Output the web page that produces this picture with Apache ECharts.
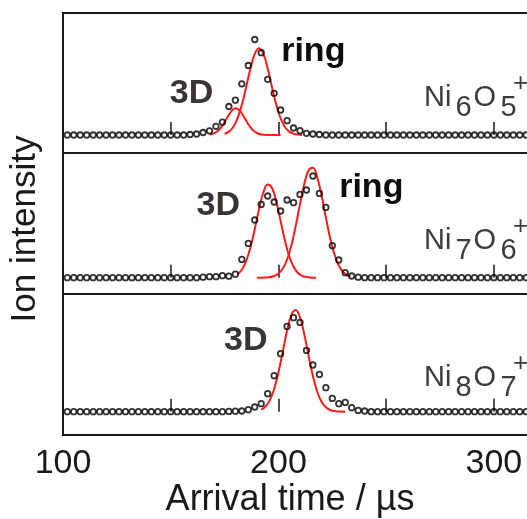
<!DOCTYPE html>
<html>
<head>
<meta charset="utf-8">
<script src="https://cdn.jsdelivr.net/npm/echarts@6/dist/echarts.min.js"></script>
<style>
    html, body { margin: 0; padding: 0; background: #fff; }
    #chart { width: 527px; height: 519px; }
</style>
</head>
<body>
<div id="chart"></div>
<script>
// arrival times of the measured points (µs)
const arrivalTimes = [
    102, 105, 108, 111, 114, 117, 120, 123, 126, 129,
    132, 135, 138, 141, 144, 147, 150, 153, 156, 159,
    162, 165, 168, 171, 174, 177, 180, 183, 186, 189,
    192, 195, 198, 201, 204, 207, 210, 213, 216, 219,
    222, 225, 228, 231, 234, 237, 240, 243, 246, 249,
    252, 255, 258, 261, 264, 267, 270, 273, 276, 279,
    282, 285, 288, 291, 294, 297, 300, 303, 306, 309,
    312, 315, 318
];

// ion intensity (arb. units) for each cluster
const ni6o5Intensity = [
    0, 0, 0, 0, 0, 0, 0, 0, 0, 0,
    0, 0, 0, 0, 0, 0, 0, 0, 0, 0.5,
    1, 2.5, 4.2, 8.7, 12.8, 28.5, 34.8, 51.2, 69.5, 95.5,
    82.3, 55.7, 41.7, 25, 14.3, 7, 4.3, 1.7, 1, 0.5,
    0, 0, 0, 0, 0, 0, 0, 0, 0, 0,
    0, 0, 0, 0, 0, 0, 0, 0, 0, 0,
    0, 0, 0, 0, 0, 0, 0, 0, 0, 0,
    0, 0, 0
];
const ni7o6Intensity = [
    0, 0, 0, 0, 0, 0, 0, 0, 0, 0,
    0, 0, 0, 0, 0, 0, 0, 0, 0, 0,
    0, 0.5, 1, 1, 2, 1.5, 3.5, 18.3, 34.3, 57.7,
    73.3, 81.7, 75.7, 66.7, 77.7, 75, 83.3, 87.7, 101.7, 84.3,
    70.3, 32, 17.7, 5, 1.7, 0.5, 0, 0, 0, 0,
    0, 0, 0, 0, 0, 0, 0, 0, 0, 0,
    0, 0, 0, 0, 0, 0, 0, 0, 0, 0,
    0, 0, 0
];
const ni8o7Intensity = [
    0, 0, 0, 0, 0, 0, 0, 0, 0, 0,
    0, 0, 0, 0, 0, 0, 0, 0, 0, 0,
    0, 0, 0, 0, 0, 0.3, 0.5, 0.7, 2, 4.7,
    8, 18, 36, 58, 85.3, 94, 89.3, 61.3, 46.7, 37.3,
    24, 13.3, 8, 9.3, 4, 1.3, 0.7, 0, 0, 0,
    0, 0, 0, 0, 0, 0, 0, 0, 0, 0,
    0, 0, 0, 0, 0, 0, 0, 0, 0, 0,
    0, 0, 0
];

// fitted isomer peaks, [time, intensity]
const ni6o5Fit3D = [[168, 0.5], [170, 1.6], [172, 4.3], [174, 9.4], [176, 16.6], [178, 23.4], [180, 26.7], [182, 24.5], [184, 18.1], [186, 10.8], [188, 5.2], [190, 2.0], [192, 0.6], [195, 0.1], [201, 0]];
const ni6o5FitRing = [[175, 1.3], [177, 3.4], [179, 8.0], [181, 16.6], [183, 30.1], [185, 47.8], [187, 66.6], [189, 81.2], [191, 86.7], [193, 81.2], [195, 66.6], [197, 47.8], [199, 30.1], [201, 16.6], [203, 8.0], [205, 3.4], [207, 1.3], [209, 0.4], [211, 0.1]];
const ni7o6Fit3D = [[181, 3.4], [183, 8.0], [185, 16.6], [187, 30.3], [189, 48.6], [191, 68.6], [193, 85.2], [195, 93.1], [197, 89.7], [199, 76.0], [201, 56.6], [203, 37.2], [205, 21.5], [207, 10.9], [209, 4.9], [211, 1.9], [213, 0.7], [215, 0.2], [217.5, 0]];
const ni7o6FitRing = [[190, 0], [192, 0.05], [195, 0.3], [198, 1.7], [200, 4.1], [202, 9.1], [204, 18.2], [206, 32.4], [208, 51.6], [210, 73.6], [212, 94.0], [214, 107.4], [216, 110.0], [218, 100.5], [220, 82.3], [222, 60.3], [224, 39.5], [226, 23.2], [228, 12.2], [230, 5.7], [232, 2.4], [233.5, 1.4]];
const ni8o7Fit3D = [[192, 2.1], [194, 5.2], [196, 11.6], [198, 22.7], [200, 39.3], [202, 60.1], [204, 81.2], [206, 96.7], [208, 101.6], [210, 94.3], [212, 77.2], [214, 55.8], [216, 35.6], [218, 20.0], [220, 9.9], [222, 4.4], [224, 1.7], [226, 0.6], [228, 0.2], [231, 0]];

const tickLabels = ['100', '200', '300'];

const FONT = '"Liberation Sans", Arial, sans-serif';
const INK = '#1a1a1a';

const panels = [
    { top: 13, height: 140, yMin: -18, yMax: 122, counts: ni6o5Intensity, fits: [ni6o5Fit3D, ni6o5FitRing],
      sub: ['6', '5'], formulaY: 98, labels: [['3D', 191.5, 93.3], ['ring', 313.3, 51.5]] },
    { top: 153, height: 141, yMin: -16.3, yMax: 124.7, counts: ni7o6Intensity, fits: [ni7o6Fit3D, ni7o6FitRing],
      sub: ['7', '6'], formulaY: 241.3, labels: [['3D', 218.3, 205.8], ['ring', 371.3, 187.6]] },
    { top: 294, height: 141, yMin: -23.3, yMax: 117.7, counts: ni8o7Intensity, fits: [ni8o7Fit3D],
      sub: ['8', '7'], formulaY: 377.5, labels: [['3D', 245.7, 340.8]] }
];

function textEl(text, x, y, size, color, opts) {
    opts = opts || {};
    return {
        type: 'text',
        x: x,
        y: y,
        rotation: opts.rotation || 0,
        z: 100,
        style: {
            text: text,
            font: (opts.weight || 'normal') + ' ' + size + 'px ' + FONT,
            fill: color,
            align: opts.align || 'center',
            textAlign: opts.align || 'center',
            verticalAlign: 'middle',
            textVerticalAlign: 'middle'
        }
    };
}

// Ni_xO_y^+ drawn piece by piece so the charge sits over the subscript
function formulaEls(p) {
    const c = '#3c3c3c';
    const y = p.formulaY;
    return [
        textEl('Ni', 424, y, 29, c, { align: 'left' }),
        textEl(p.sub[0], 455.5, y + 10, 29, c, { align: 'left' }),
        textEl('O', 473.5, y, 29, c, { align: 'left' }),
        textEl(p.sub[1], 500.5, y + 10, 29, c, { align: 'left' }),
        textEl('+', 520.5, y - 14, 26, c)
    ];
}

const grids = [];
const xAxes = [];
const yAxes = [];
const series = [];
const graphics = [];

panels.forEach((p, idx) => {
    const last = idx === panels.length - 1;
    grids.push({
        left: 63,
        right: -10,
        top: p.top,
        height: p.height,
        outerBoundsMode: 'none',
        containLabel: false,
        show: true,
        borderColor: INK,
        borderWidth: 2,
        backgroundColor: 'transparent'
    });
    xAxes.push({
        type: 'value',
        gridIndex: idx,
        min: 100,
        max: 320,
        interval: 50,
        axisLine: { show: false },
        axisTick: { show: true, inside: true, length: 13, lineStyle: { color: INK, width: 1.5 } },
        splitLine: { show: false },
        axisLabel: {
            show: last,
            margin: 12,
            fontSize: 34,
            fontFamily: FONT,
            color: INK,
            formatter: v => tickLabels.includes(String(v)) ? String(v) : ''
        },
        name: last ? 'Arrival time / µs' : '',
        nameLocation: 'middle',
        nameGap: 45,
        nameTextStyle: { fontSize: 36, fontFamily: FONT, color: INK, padding: [0, 20, 0, 0] }
    });
    yAxes.push({
        type: 'value',
        gridIndex: idx,
        min: p.yMin,
        max: p.yMax,
        show: false
    });

    p.fits.forEach(fit => {
        series.push({
            type: 'line',
            xAxisIndex: idx,
            yAxisIndex: idx,
            data: fit,
            smooth: 0.4,
            symbol: 'none',
            lineStyle: { color: '#ff1a1a', width: 2 },
            z: 2
        });
    });
    series.push({
        type: 'scatter',
        xAxisIndex: idx,
        yAxisIndex: idx,
        data: arrivalTimes.map((t, i) => [t, p.counts[i]]),
        symbol: 'circle',
        symbolSize: 5.5,
        itemStyle: { color: 'rgba(255,255,255,0)', borderColor: '#000', borderWidth: 1.8 },
        z: 3
    });

    p.labels.forEach(([txt, x, y]) => {
        graphics.push(textEl(txt, x, y, 34, txt === 'ring' ? '#0d0d0d' : '#3a3532', { weight: 'bold' }));
    });
    graphics.push(...formulaEls(p));
});

graphics.push(textEl('Ion intensity', 25, 229, 35, INK, { rotation: Math.PI / 2 }));

const chart = echarts.init(document.getElementById('chart'));
chart.setOption({
    animation: false,
    backgroundColor: '#fff',
    grid: grids,
    xAxis: xAxes,
    yAxis: yAxes,
    series: series,
    graphic: graphics
});
</script>
</body>
</html>
